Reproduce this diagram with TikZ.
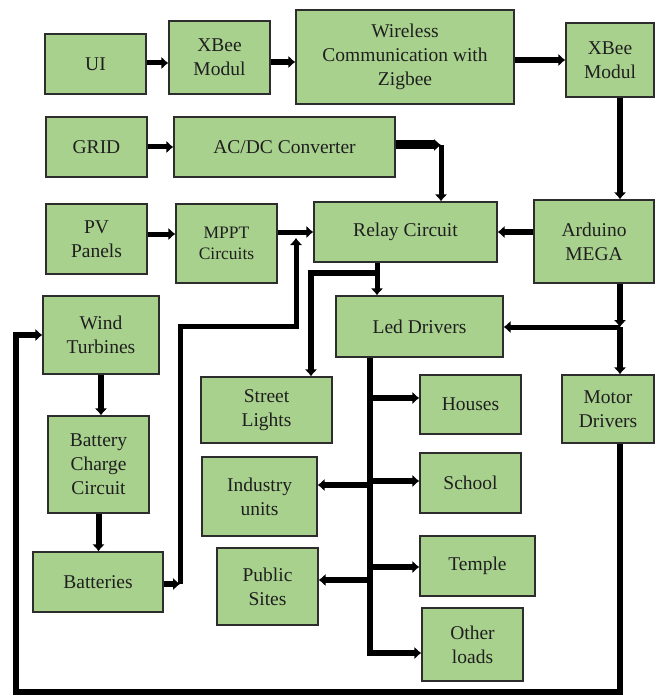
\documentclass[tikz,border=0pt]{standalone}
\usepackage{fontspec}
\setmainfont{Liberation Serif}
\usepackage{tikz}
\usetikzlibrary{calc}
\usetikzlibrary{arrows.meta}

\definecolor{boxgreen}{RGB}{169,209,142}
\definecolor{boxline}{RGB}{45,45,45}
\tikzset{
  blk/.style = {rectangle, draw = boxline, fill = boxgreen, line width = 1.4pt, align = center, inner sep = 0pt, text = black!88, font = \fontsize{19.5}{24}\selectfont},
  link/.style = {-{Latex[length=7pt, width=13pt]}, draw = black, line width = 6pt},
}

\begin{document}
\begin{tikzpicture}[x = 1pt, y = -1pt]
\useasboundingbox (0, 0) rectangle (655, 695);

% top row
\node [blk, minimum width = 101pt, minimum height = 60pt] (UI) at (95.5, 64) {UI};
\node [blk, minimum width = 101pt, minimum height = 73pt] (XB1) at (219.5, 57.5) {XBee\\Modul};
\node [blk, minimum width = 218pt, minimum height = 94pt] (ZB) at (405, 57) {Wireless\\Communication with\\Zigbee};
\node [blk, minimum width = 88pt, minimum height = 74pt] (XB2) at (610, 60) {XBee\\Modul};

% sources
\node [blk, minimum width = 101pt, minimum height = 60pt] (GR) at (96.5, 147) {GRID};
\node [blk, minimum width = 221pt, minimum height = 60pt] (AC) at (284.5, 147) {AC/DC Converter};
\node [blk, minimum width = 101pt, minimum height = 70pt] (PV) at (96.5, 239) {PV\\Panels};
\node [blk, minimum width = 101pt, minimum height = 79pt, font = \fontsize{17.5}{21}\selectfont] (MP) at (226.5, 243.5) {MPPT\\Circuits};
\node [blk, minimum width = 183pt, minimum height = 60pt] (RC) at (405.5, 232) {Relay Circuit};
\node [blk, minimum width = 120pt, minimum height = 83pt] (AM) at (594, 241.5) {Arduino\\MEGA};
\node [blk, minimum width = 116pt, minimum height = 78pt] (WT) at (101, 335) {Wind\\Turbines};
\node [blk, minimum width = 101pt, minimum height = 97pt] (BC) at (98.5, 464.5) {Battery\\Charge\\Circuit};
\node [blk, minimum width = 130pt, minimum height = 60pt] (BT) at (98, 582) {Batteries};

% drivers and loads
\node [blk, minimum width = 167pt, minimum height = 61pt] (LD) at (419.5, 326.5) {Led Drivers};
\node [blk, minimum width = 92pt, minimum height = 68pt] (MD) at (608, 409) {Motor\\Drivers};
\node [blk, minimum width = 131pt, minimum height = 66pt] (SL) at (266.5, 410) {Street\\Lights};
\node [blk, minimum width = 115pt, minimum height = 79pt] (IU) at (259.5, 496.5) {Industry\\units};
\node [blk, minimum width = 101pt, minimum height = 77pt] (PS) at (267.5, 586.5) {Public\\Sites};
\node [blk, minimum width = 101pt, minimum height = 59pt] (HS) at (470.5, 404.5) {Houses};
\node [blk, minimum width = 101pt, minimum height = 60pt] (SC) at (470.5, 483) {School};
\node [blk, minimum width = 115pt, minimum height = 60pt] (TP) at (477.5, 566) {Temple};
\node [blk, minimum width = 101pt, minimum height = 73pt] (OL) at (472.5, 644.5) {Other\\loads};

% junction points
\coordinate (ACJ) at (441, 145);
\coordinate (MPJ) at (296, 238);
\coordinate (BTJ) at (180, 584);
\coordinate (BTU) at (296, 326);
\coordinate (RCJ) at (377, 273);
\coordinate (SLJ) at (311, 273);
\coordinate (AMJ) at (620, 327);
\coordinate (LDJ) at (370, 653);
\coordinate (RET) at (16, 692);

% communication
\draw [link, line width = 5pt] (UI.east |- 0, 63) to (XB1.west |- 0, 63);
\draw [link] (XB1.east |- 0, 62) to (ZB.west |- 0, 62);
\draw [link] (ZB.east |- XB2.west) to (XB2.west);
\draw [link] (XB2.south -| AMJ) to (AM.north -| AMJ);

% power in
\draw [link, line width = 5pt] (GR.east) to (AC.west);
\draw [link, line width = 9pt] (AC.east |- ACJ) to (ACJ);
\draw [link, line width = 5pt] (ACJ) to (ACJ |- RC.north);
\draw [link, line width = 5pt] (PV.east |- 0, 234) to (MP.west |- 0, 234);
\draw [link, line width = 5pt] (RC.west -| MP.east) to (RC.west);
\draw [link] (AM.west |- RC.east) to (RC.east);
\draw [link] (BT.east |- BTJ) to (BTJ);
\draw [link, line width = 5pt] (BTJ) |- (BTU) to (MPJ);
\draw [link] (WT.south) to (WT.south |- BC.north);
\draw [link] (BC.south) to (BC.south |- BT.north);

% relay and drivers
\draw [link, line width = 5pt] (RC.south -| RCJ) to (LD.north -| RCJ);
\draw [link] (RCJ) -- (SLJ) to (SLJ |- SL.north);
\draw [link] (AMJ |- AM.south) to (AMJ);
\draw [link, line width = 5pt] (AMJ) to (AMJ -| LD.east);
\draw [link] (AMJ) to (AMJ |- MD.north);
\draw [link] (MD.south -| AMJ) |- (RET) |- (WT.west);

% loads
\draw [draw = black, line width = 6pt] (LD.south -| LDJ) to ([yshift = -3pt]LDJ);
\draw [link] (LDJ |- 0, 398) to (HS.west |- 0, 398);
\draw [link] (LDJ |- 0, 481) to (SC.west |- 0, 481);
\draw [link] (LDJ |- 0, 485) to (IU.east |- 0, 485);
\draw [link] (LDJ |- 0, 567) to (TP.west |- 0, 567);
\draw [link] (LDJ |- 0, 580) to (PS.east |- 0, 580);
\draw [link] (LDJ) to (OL.west |- LDJ);
\end{tikzpicture}
\end{document}
